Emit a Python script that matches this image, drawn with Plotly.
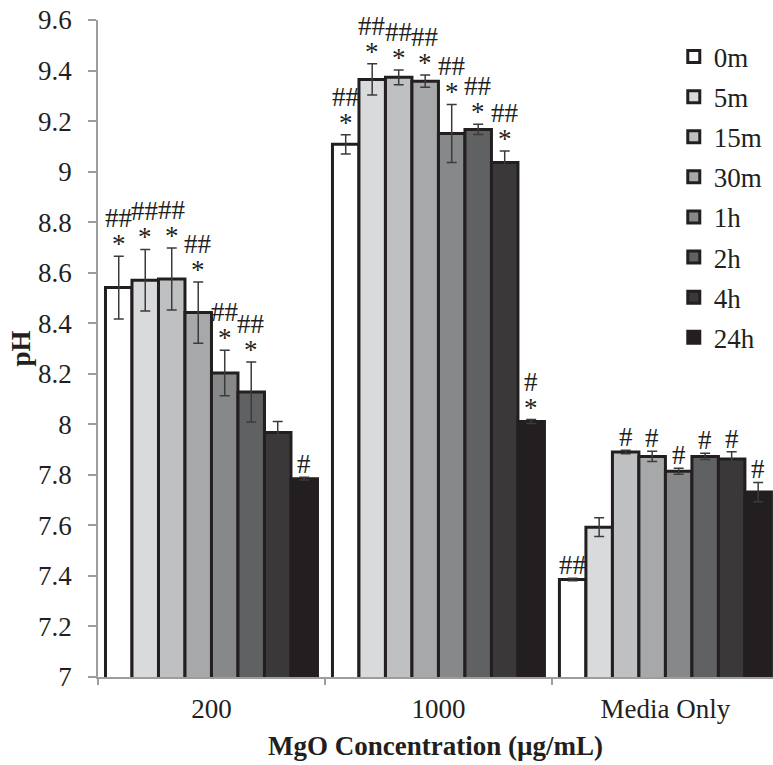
import plotly.graph_objects as go

categories = ["200", "1000", "Media Only"]
times = ["0m", "5m", "15m", "30m", "1h", "2h", "4h", "24h"]
colors = ["#ffffff", "#d9dadb", "#bfc0c2", "#a7a8aa", "#87888a", "#606163", "#3a3839", "#231f20"]

# mean pH per time point, for [200, 1000, Media Only]
ph_0m = [8.541, 9.108, 7.386]
ph_5m = [8.570, 9.365, 7.593]
ph_15m = [8.575, 9.373, 7.890]
ph_30m = [8.442, 9.358, 7.873]
ph_1h = [8.203, 9.151, 7.814]
ph_2h = [8.128, 9.167, 7.873]
ph_4h = [7.968, 9.036, 7.863]
ph_24h = [7.785, 8.011, 7.732]

# error (+/-)
err_0m = [0.124, 0.038, 0.005]
err_5m = [0.122, 0.062, 0.037]
err_15m = [0.123, 0.029, 0.007]
err_30m = [0.121, 0.024, 0.020]
err_1h = [0.090, 0.115, 0.012]
err_2h = [0.119, 0.020, 0.012]
err_4h = [0.043, 0.046, 0.028]
err_24h = [0.005, 0.008, 0.038]

# significance marks, bottom to top, per time point for each category
sig_200 = [["*", "##"], ["*", "##"], ["*", "##"], ["*", "##"], ["*", "##"], ["*", "##"], [], ["#"]]
sig_1000 = [["*", "##"], ["*", "##"], ["*", "##"], ["*", "##"], ["*", "##"], ["*", "##"], ["*", "##"], ["*", "#"]]
sig_media = [["##"], [], ["#"], ["#"], ["#"], ["#"], ["#"], ["#"]]

yticks = [7, 7.2, 7.4, 7.6, 7.8, 8, 8.2, 8.4, 8.6, 8.8, 9, 9.2, 9.4, 9.6]
yticktext = ["7", "7.2", "7.4", "7.6", "7.8", "8", "8.2", "8.4", "8.6", "8.8", "9", "9.2", "9.4", "9.6"]

means = [ph_0m, ph_5m, ph_15m, ph_30m, ph_1h, ph_2h, ph_4h, ph_24h]
errs = [err_0m, err_5m, err_15m, err_30m, err_1h, err_2h, err_4h, err_24h]
sigs = [sig_200, sig_1000, sig_media]

FONT = "Liberation Serif"
INK = "#231f20"
AXIS = "#9d9d9d"
BARGAP = 0.066

fig = go.Figure()
for i, t in enumerate(times):
    fig.add_trace(go.Bar(
        x=categories, y=means[i], name=t, legendgroup=t,
        marker=dict(color=colors[i], line=dict(color=INK, width=3)),
        error_y=dict(type="data", array=errs[i], visible=True,
                     color="#3b3b3b", thickness=1.5, width=5),
    ))

# significance annotations above error bars
n = len(times)
w = (1 - BARGAP) / n
for c in range(len(categories)):
    for i in range(n):
        xpos = c - (1 - BARGAP) / 2 + w * (i + 0.5)
        ytop = means[i][c] + errs[i][c]
        for k, s in enumerate(sigs[c][i]):
            shift = (12 if s == "*" else 13) + 25 * k
            fig.add_annotation(x=xpos, y=ytop, xref="x", yref="y", text=s,
                               showarrow=False, yanchor="middle", yshift=shift,
                               font=dict(family=FONT, size=27, color=INK))

fig.update_layout(
    width=773, height=765,
    margin=dict(l=98, r=0, t=20, b=88),
    paper_bgcolor="white", plot_bgcolor="white",
    barmode="group", bargap=BARGAP, bargroupgap=0,
    font=dict(family=FONT, size=27, color=INK),
    legend=dict(x=0.853, y=0.981, xanchor="left", yanchor="top",
                font=dict(family=FONT, size=27, color=INK),
                tracegroupgap=2, bgcolor="rgba(0,0,0,0)", itemwidth=30),
    showlegend=True,
)
fig.update_xaxes(
    type="category", range=[-0.5, 2.474],
    showline=True, linecolor=AXIS, linewidth=1.5,
    ticks="outside", tickson="boundaries", ticklen=6, tickcolor=AXIS, tickwidth=1.5,
    showgrid=False, zeroline=False,
    tickfont=dict(family=FONT, size=27, color=INK),
    ticklabelstandoff=7,
    title=dict(text="<b>MgO Concentration (µg/mL)</b>", standoff=13,
               font=dict(family=FONT, size=27, color=INK)),
)
fig.update_yaxes(
    range=[7, 9.6], tickvals=yticks, ticktext=yticktext,
    showline=True, linecolor=AXIS, linewidth=1.5,
    ticks="outside", ticklen=8, tickcolor=AXIS, tickwidth=1.5,
    showgrid=False, zeroline=False,
    tickfont=dict(family=FONT, size=27, color=INK),
    ticklabelstandoff=11,
    title=dict(text="<b>pH</b>", standoff=0,
               font=dict(family=FONT, size=27, color=INK)),
)

fig.write_html("out.html")
